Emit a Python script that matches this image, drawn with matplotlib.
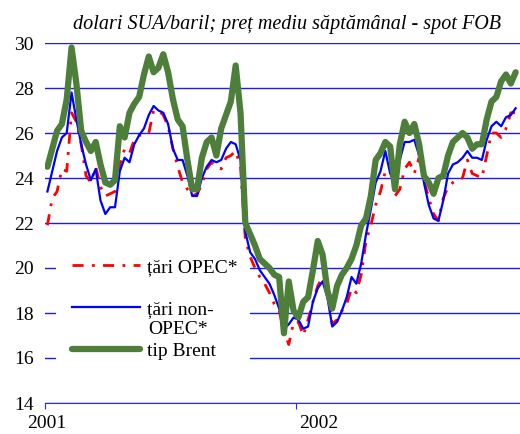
#!/usr/bin/env python3

import numpy as np
import matplotlib
matplotlib.use('Agg')
import matplotlib.pyplot as plt

plt.rcParams['font.family'] = ['Liberation Serif', 'DejaVu Serif']

# weekly prices, USD/barrel, from the first week of 2001
opec = [21.9, 23.1, 23.4, 24.4, 24.3, 26.9, 26.5, 25.5, 24.1, 23.8,
        24.5, 23.6, 23.2, 23.3, 23.4, 24.6, 25.3, 25.1, 25.7, 25.9,
        25.9, 26.0, 27.0, 27.0, 26.8, 26.3, 25.3, 24.5, 23.8, 23.5,
        23.2, 23.3, 23.7, 24.4, 24.7, 24.5, 24.4, 24.9, 25.0, 25.2,
        24.5, 21.3, 20.5, 20.0, 19.6, 19.3, 18.9, 18.4, 18.1, 17.2,
        16.6, 17.6, 17.6, 17.0, 17.7, 18.5, 19.2, 19.6, 19.0, 17.5,
        17.7, 18.1, 18.4, 19.1, 18.9, 19.7, 21.2, 21.9, 22.8, 23.4,
        24.3, 24.5, 23.2, 23.5, 24.4, 24.7, 24.2, 24.9, 23.9, 23.1,
        22.4, 22.1, 23.1, 23.6, 23.8, 23.9, 24.0, 24.8, 24.2, 24.1,
        24.0, 25.0, 26.0, 26.0, 25.8, 26.2, 26.9, 26.9]

non_opec = [23.4, 24.3, 25.2, 25.8, 26.0, 27.8, 26.6, 25.5, 24.6, 23.9,
            24.4, 23.0, 22.4, 22.7, 22.7, 24.3, 24.9, 24.7, 25.5, 25.9,
            26.2, 26.8, 27.2, 27.0, 26.9, 26.4, 25.3, 24.8, 24.8, 24.1,
            23.2, 23.2, 24.0, 24.5, 24.8, 24.7, 24.8, 25.3, 25.6, 25.5,
            24.8, 21.6, 20.7, 20.4, 19.9, 19.6, 19.3, 18.8, 18.2, 17.3,
            17.5, 17.8, 17.7, 17.3, 17.4, 18.5, 19.1, 19.4, 18.7, 17.4,
            17.6, 18.1, 18.7, 19.6, 19.3, 20.2, 21.5, 22.6, 23.8, 24.3,
            25.2, 24.2, 23.8, 24.8, 25.6, 25.6, 25.7, 25.0, 23.8, 22.8,
            22.2, 22.1, 23.0, 24.2, 24.6, 24.7, 24.9, 25.2, 24.9, 24.9,
            24.8, 25.7, 26.3, 26.5, 26.3, 26.7, 26.8, 27.1]

brent = [24.5, 25.3, 26.1, 26.4, 27.5, 29.8, 28.2, 26.1, 25.6, 25.2,
         25.6, 24.6, 23.8, 23.7, 23.9, 26.3, 25.8, 26.9, 27.3, 27.6,
         28.6, 29.4, 28.7, 28.9, 29.5, 28.7, 27.5, 26.6, 26.3, 24.8,
         23.5, 23.5, 24.9, 25.6, 25.8, 25.0, 26.2, 26.8, 27.4, 29.0,
         26.9, 22.0, 21.5, 21.0, 20.4, 20.2, 20.0, 19.7, 19.6, 17.1,
         19.4, 18.1, 17.8, 18.5, 18.7, 19.9, 21.2, 20.6, 19.0, 18.2,
         19.2, 19.7, 20.0, 20.4, 21.0, 21.9, 22.2, 23.2, 24.8, 25.1,
         25.6, 25.4, 23.5, 25.5, 26.5, 26.0, 26.4, 25.5, 24.1, 23.8,
         23.3, 24.0, 24.1, 25.0, 25.6, 25.8, 26.0, 25.8, 25.3, 25.5,
         25.5, 26.6, 27.4, 27.6, 28.3, 28.6, 28.2, 28.7]

year_labels = ['2001', '2002']
y_ticks = [14, 16, 18, 20, 22, 24, 26, 28, 30]
legend_labels = ['țări OPEC*', 'țări non-', 'tip Brent']

weeks = np.arange(len(brent))

fig = plt.figure(figsize=(5.2, 4.34), dpi=100)
ax = fig.add_axes([45/520, 31/434, 475/520, 360/434])

l1, = ax.plot(weeks, opec, color='#ff0000', lw=2, linestyle=(0, (4, 3, 1, 3)),
              zorder=3)
l2, = ax.plot(weeks, non_opec, color='#0000ff', lw=1.6, zorder=4,
              solid_joinstyle='round')
l3, = ax.plot(weeks, brent, color='#4e7f3a', lw=4.5, zorder=5,
              solid_joinstyle='round', solid_capstyle='round')

ax.set_xlim(-0.5, 97.9)
ax.set_ylim(14, 30)
ax.set_yticks(y_ticks)
ax.yaxis.grid(True, color='#1a1aff', lw=1)
ax.set_axisbelow(True)
for s in ['left', 'top', 'right']:
    ax.spines[s].set_visible(False)
ax.spines['bottom'].set_color('#2a2aff')
ax.tick_params(axis='y', length=0, pad=8, labelsize=14)

# year ticks at year starts, labels a bit offset as in the source
ax.set_xticks([-0.5, 51.5])
ax.set_xticklabels([])
ax.tick_params(axis='x', which='major', length=4, color='#2a2aff', direction='out')
ax.set_xticks([-0.1, 56.3], minor=True)
ax.set_xticklabels(year_labels, minor=True)
ax.tick_params(axis='x', which='minor', length=0, pad=9, labelsize=14)

# one legend per row so the rows sit where the source puts them
row_y = [267, 309, 351]
for line, lab, yc in zip([l1, l2, l3], legend_labels, row_y):
    leg = ax.legend([line], [lab], loc='center', mode='expand',
                    bbox_to_anchor=(56/520, 1 - (yc + 21)/434, 194/520, 42/434),
                    bbox_transform=fig.transFigure, fontsize=14, frameon=True,
                    facecolor='white', edgecolor='none', framealpha=1,
                    fancybox=False, handlelength=3.5, handletextpad=0.4,
                    borderpad=0.8, borderaxespad=0)
    leg.set_zorder(2.5)
    ax.add_artist(leg)

fig.text(148/520, 1 - 329/434, 'OPEC*', fontsize=14, ha='left', va='center',
         zorder=7)

fig.text(287/520, 1 - 25/434, 'dolari SUA/baril; preț mediu săptămânal - spot FOB',
         fontsize=14.5, style='italic', ha='center', va='center')

fig.savefig('out.png', dpi=100)
